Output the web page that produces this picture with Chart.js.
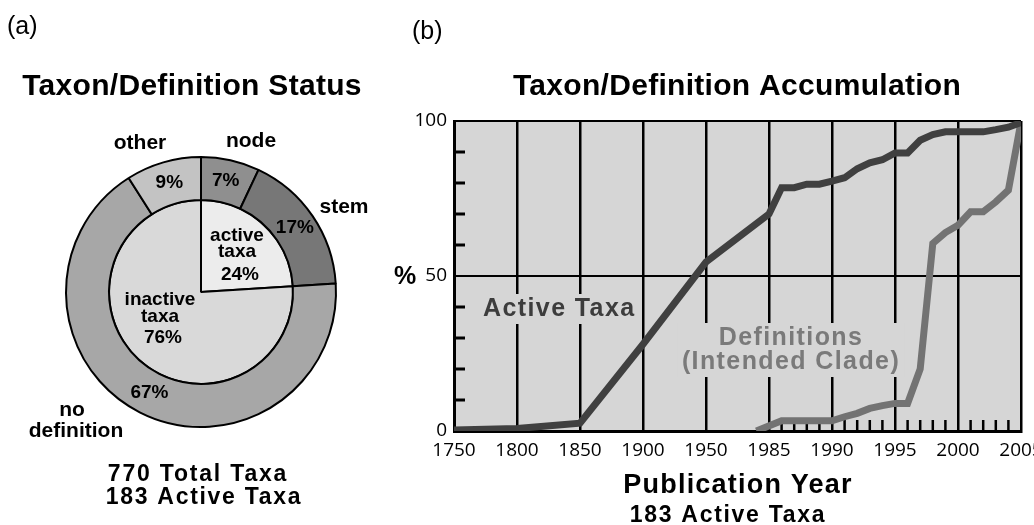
<!DOCTYPE html>
<html>
<head>
<meta charset="utf-8">
<script src="https://cdn.jsdelivr.net/npm/chart.js@4.4.1/dist/chart.umd.min.js"></script>
<style>
  html, body { margin: 0; padding: 0; background: #fff; }
  #wrap { position: relative; width: 1034px; height: 525px; }
  #wrap canvas { position: absolute; left: 0; top: 0; }
</style>
</head>
<body>
<div id="wrap">
  <canvas id="pieCanvas" width="1034" height="525"></canvas>
  <canvas id="lineCanvas" width="1034" height="525"></canvas>
</div>
<script>
// (a) status of taxa / definitions
const ringLabels = ['node', 'stem', 'no definition', 'other'];
const ringValues = [7, 17, 67, 9];
const coreLabels = ['active taxa', 'inactive taxa'];
const coreValues = [24, 76];

// (b) accumulation curves
const yearTicks = [1750, 1800, 1850, 1900, 1950, 1985, 1990, 1995, 2000, 2005];
const activeYears = [1750, 1800, 1850, 1900, 1950, 1985, 1986, 1987, 1988, 1989, 1990, 1991, 1992, 1993, 1994, 1995, 1996, 1997, 1998, 1999, 2000, 2001, 2002, 2003, 2004, 2005];
const activeValues = [0.3, 0.8, 2.5, 28, 54.5, 70, 78.5, 78.5, 79.6, 79.6, 80.6, 81.7, 84.6, 86.5, 87.5, 89.7, 89.7, 93.8, 95.6, 96.5, 96.5, 96.5, 96.5, 97.2, 98, 99.5];
const defYears = [1978, 1986, 1987, 1988, 1989, 1990, 1991, 1992, 1993, 1994, 1995, 1996, 1997, 1998, 1999, 2000, 2001, 2002, 2003, 2004, 2005];
const defValues = [0, 3.3, 3.3, 3.3, 3.3, 3.3, 4.6, 5.7, 7.3, 8.2, 8.9, 8.9, 20, 60.5, 64, 66.4, 70.7, 70.7, 73.9, 77.7, 99.7];
const yMinorTicks = [10, 20, 30, 40, 60, 70, 80, 90];
const yearMinorTicks = [1986, 1987, 1988, 1989, 1991, 1992, 1993, 1994, 1996, 1997, 1998, 1999, 2001, 2002, 2003, 2004];

const plotBg = '#d6d6d6';

// labelled years are evenly spaced, so map a year to its slot on the axis
function yearPos(yr) {
  for (let i = 0; i < yearTicks.length - 1; i++) {
    if (yr <= yearTicks[i + 1]) {
      return i + (yr - yearTicks[i]) / (yearTicks[i + 1] - yearTicks[i]);
    }
  }
  return yearTicks.length - 1;
}

function drawText(ctx, t) {
  ctx.save();
  ctx.font = t.font;
  ctx.fillStyle = t.color || '#000';
  ctx.textAlign = t.align || 'center';
  ctx.textBaseline = 'middle';
  ctx.letterSpacing = (t.spacing || 0) + 'px';
  ctx.fillText(t.text, t.x, t.y);
  ctx.restore();
}

const textPlugin = {
  id: 'texts',
  afterDraw(chart, args, opts) {
    (opts.items || []).forEach(t => drawText(chart.ctx, t));
  }
};

// ---------- pie ----------
const pieTexts = [
  { text: '(a)', x: 7, y: 27, font: '25px "Liberation Sans"', align: 'left' },
  { text: 'Taxon/Definition Status', x: 192, y: 87, font: 'bold 30px "Liberation Sans"', spacing: 0.3 },
  { text: 'other', x: 140, y: 143, font: 'bold 21px "Liberation Sans"' },
  { text: 'node', x: 251, y: 141, font: 'bold 21px "Liberation Sans"' },
  { text: 'stem', x: 344, y: 207, font: 'bold 21px "Liberation Sans"' },
  { text: 'no', x: 72, y: 410, font: 'bold 21px "Liberation Sans"' },
  { text: 'definition', x: 76, y: 431, font: 'bold 21px "Liberation Sans"' },
  { text: 'active', x: 237, y: 236, font: 'bold 19px "Liberation Sans"' },
  { text: 'taxa', x: 237, y: 252, font: 'bold 19px "Liberation Sans"' },
  { text: coreValues[0] + '%', x: 240, y: 275, font: 'bold 19px "Liberation Sans"' },
  { text: 'inactive', x: 160, y: 300, font: 'bold 19px "Liberation Sans"' },
  { text: 'taxa', x: 160, y: 317, font: 'bold 19px "Liberation Sans"' },
  { text: coreValues[1] + '%', x: 163, y: 338, font: 'bold 19px "Liberation Sans"' },
  { text: '770 Total Taxa', x: 198, y: 475, font: 'bold 23px "Liberation Sans"', spacing: 1.8 },
  { text: '183 Active Taxa', x: 204, y: 498, font: 'bold 23px "Liberation Sans"', spacing: 1.7 }
];

// percentages in the outer ring sit at the middle of each arc
const ringPctPlugin = {
  id: 'ringPct',
  afterDatasetsDraw(chart) {
    const meta = chart.getDatasetMeta(0);
    meta.data.forEach((arc, i) => {
      const p = arc.getProps(['x', 'y', 'startAngle', 'endAngle', 'innerRadius', 'outerRadius'], true);
      const mid = (p.startAngle + p.endAngle) / 2;
      const r = (p.innerRadius + p.outerRadius) / 2;
      drawText(chart.ctx, {
        text: ringValues[i] + '%',
        x: p.x + Math.cos(mid) * r,
        y: p.y + Math.sin(mid) * r,
        font: 'bold 19px "Liberation Sans"'
      });
    });
  }
};

new Chart(document.getElementById('pieCanvas'), {
  type: 'doughnut',
  data: {
    labels: ringLabels,
    datasets: [
      {
        data: ringValues,
        backgroundColor: ['#8f8f8f', '#777777', '#a7a7a7', '#c3c3c3'],
        borderColor: '#000',
        borderWidth: 2,
        weight: 43
      },
      {
        labels: coreLabels,
        data: coreValues,
        backgroundColor: ['#ececec', '#d9d9d9'],
        borderColor: '#000',
        borderWidth: 2,
        weight: 92
      }
    ]
  },
  options: {
    responsive: false,
    animation: false,
    events: [],
    cutout: 0,
    radius: 135,
    layout: { padding: { left: 62, right: 694, top: 155, bottom: 96 } },
    plugins: {
      legend: { display: false },
      tooltip: { enabled: false },
      texts: { items: pieTexts }
    }
  },
  plugins: [ringPctPlugin, textPlugin]
});

// ---------- line chart ----------
const lineTexts = [
  { text: '(b)', x: 412, y: 32, font: '25px "Liberation Sans"', align: 'left' },
  { text: 'Taxon/Definition Accumulation', x: 737, y: 87, font: 'bold 30px "Liberation Sans"', spacing: 0.3 },
  { text: '%', x: 405, y: 277, font: 'bold 25px "Liberation Sans"' },
  { text: 'Publication Year', x: 738, y: 486, font: 'bold 27px "Liberation Sans"', spacing: 1.2 },
  { text: '183 Active Taxa', x: 728, y: 516, font: 'bold 23px "Liberation Sans"', spacing: 1.7 }
];

// series names sit on plot-coloured boxes that break the grid lines
const seriesLabels = [
  { lines: ['Active Taxa'], x: 483, y: 309, align: 'left', color: '#3d3d3d' },
  { lines: ['Definitions', '(Intended Clade)'], x: 791, y: 338, align: 'center', color: '#7a7a7a' }
];

const plotDecor = {
  id: 'plotDecor',
  beforeDraw(chart) {
    const { ctx, chartArea: a } = chart;
    ctx.save();
    ctx.fillStyle = plotBg;
    ctx.fillRect(a.left, a.top, a.right - a.left, a.bottom - a.top);
    ctx.restore();
  },
  beforeDatasetsDraw(chart) {
    const { ctx, chartArea: a, scales } = chart;
    ctx.save();
    ctx.strokeStyle = '#000';
    ctx.lineWidth = 3;
    yMinorTicks.forEach(v => {
      const y = scales.y.getPixelForValue(v);
      ctx.beginPath();
      ctx.moveTo(a.left, y);
      ctx.lineTo(a.left + 11, y);
      ctx.stroke();
    });
    ctx.lineWidth = 2.5;
    yearMinorTicks.forEach(yr => {
      const x = scales.x.getPixelForValue(yearPos(yr));
      ctx.beginPath();
      ctx.moveTo(x, a.bottom);
      ctx.lineTo(x, a.bottom - 11);
      ctx.stroke();
    });

    const font = 'bold 25px "Liberation Sans"';
    seriesLabels.forEach(g => {
      ctx.font = font;
      ctx.letterSpacing = '1.4px';
      const w = Math.max(...g.lines.map(s => ctx.measureText(s).width));
      const x0 = g.align === 'left' ? g.x : g.x - w / 2;
      const h = 24 * (g.lines.length - 1) + 30;
      ctx.fillStyle = plotBg;
      ctx.fillRect(x0 - 4, g.y - 15, w + 8, h);
      g.lines.forEach((s, i) => {
        drawText(ctx, { text: s, x: g.x, y: g.y + i * 24, font: font, spacing: 1.4, color: g.color, align: g.align });
      });
    });
    ctx.restore();
  }
};

new Chart(document.getElementById('lineCanvas'), {
  type: 'line',
  data: {
    datasets: [
      {
        label: 'Active Taxa',
        data: activeYears.map((yr, i) => ({ x: yearPos(yr), y: activeValues[i] })),
        borderColor: '#404040',
        borderWidth: 7,
        pointRadius: 0,
        tension: 0
      },
      {
        label: 'Definitions (Intended Clade)',
        data: defYears.map((yr, i) => ({ x: yearPos(yr), y: defValues[i] })),
        borderColor: '#737373',
        borderWidth: 7,
        pointRadius: 0,
        tension: 0
      }
    ]
  },
  options: {
    responsive: false,
    animation: false,
    events: [],
    layout: { padding: { left: 400, right: 13, top: 121, bottom: 0 } },
    scales: {
      x: {
        type: 'linear',
        min: 0,
        max: yearTicks.length - 1,
        afterFit: s => { s.height = 94; s.paddingLeft = 0; s.paddingRight = 0; },
        ticks: {
          stepSize: 1,
          autoSkip: false,
          maxRotation: 0,
          padding: 8,
          color: '#000',
          font: { family: 'Open Sans', size: 19 },
          callback: v => yearTicks[v]
        },
        grid: { color: '#000', lineWidth: 2.5, drawTicks: false },
        border: { display: true, color: '#000', width: 3 }
      },
      y: {
        min: 0,
        max: 100,
        afterFit: s => { s.width = 54; },
        ticks: {
          stepSize: 50,
          padding: 7,
          color: '#000',
          font: { family: 'Open Sans', size: 19 }
        },
        grid: { color: '#000', lineWidth: 2, drawTicks: false },
        border: { display: true, color: '#000', width: 3 }
      }
    },
    plugins: {
      legend: { display: false },
      tooltip: { enabled: false },
      texts: { items: lineTexts }
    }
  },
  plugins: [plotDecor, textPlugin]
});
</script>
</body>
</html>
